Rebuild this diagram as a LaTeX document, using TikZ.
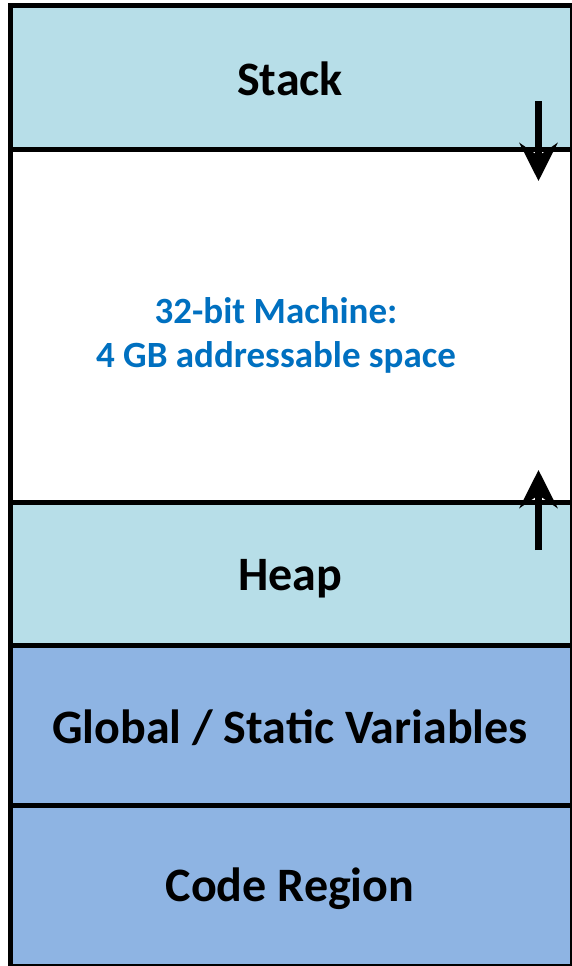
\documentclass[tikz,border=0pt]{standalone}
\usepackage{fontspec}
\setmainfont{Carlito}
\usetikzlibrary{arrows.meta}
\definecolor{stackblue}{HTML}{B7DEE8}
\definecolor{dataBlue}{HTML}{8EB4E3}
\definecolor{noteblue}{HTML}{0070C0}
\tikzset{
  region/.style={draw=black, line width=5pt},
  label/.style={font=\bfseries\fontsize{48}{56}\selectfont, text=black},
  note/.style={font=\bfseries\fontsize{37}{44}\selectfont, text=noteblue, align=center},
  growth/.style={line width=7pt, -{Stealth[length=38pt, width=38pt, inset=13pt]}}
}
\begin{document}
\begin{tikzpicture}[x=1pt, y=-1pt]
\useasboundingbox (0,0) rectangle (571,966);
% memory segments, top to bottom
\fill[stackblue] (10.5,5.5) rectangle (572,149);
\fill[white] (10.5,149) rectangle (572,502);
\fill[stackblue] (10.5,502) rectangle (572,645.5);
\fill[dataBlue] (10.5,645.5) rectangle (572,805.5);
\fill[dataBlue] (10.5,805.5) rectangle (572,966.5);
% outline and separators
\draw[region] (10.5,5.8) rectangle (572,966.5);
\draw[region] (10.5,149) -- (572,149);
\draw[region] (10.5,502) -- (572,502);
\draw[region] (10.5,645.5) -- (572,645.5);
\draw[region] (10.5,805.5) -- (572,805.5);
% labels
\node[label] (stack) at (290,79) {Stack};
\node[label] (heap) at (290,578.5) {Heap};
\node[label] (global) at (290,728) {Global / Static Variables};
\node[label] (code) at (290,889) {Code Region};
\node[note] (space) at (276,335) {32-bit Machine:\\4 GB addressable space};
% growth directions
\coordinate (stacktop) at (538.5,101);
\coordinate (stacktip) at (538.5,181);
\coordinate (heapbot) at (538.5,550);
\coordinate (heaptip) at (538.5,470);
\draw[growth] (stacktop) -- (stacktip);
\draw[growth] (heapbot) -- (heaptip);
\end{tikzpicture}
\end{document}
